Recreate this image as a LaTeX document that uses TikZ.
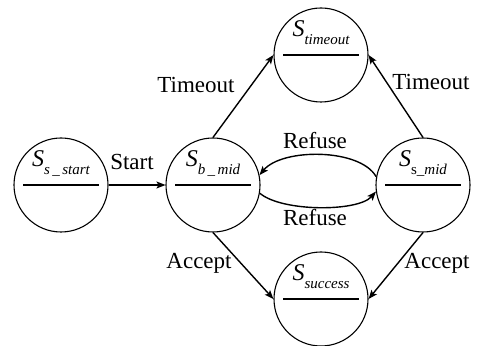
\documentclass[tikz,border=0pt]{standalone}
\usepackage{fontspec}
\setmainfont{Liberation Serif}
\usetikzlibrary{arrows.meta}
\tikzset{
  state/.style={draw, circle, line width=1.1pt, minimum size=94pt, inner sep=0pt},
  sname/.style={anchor=base, inner sep=0pt, font=\fontsize{24}{26}\selectfont\itshape},
  lbl/.style={anchor=base, inner sep=0pt, font=\fontsize{23}{26}\selectfont},
  arr/.style={line width=1.4pt, -{Stealth[length=9pt,width=7pt,inset=2pt]}},
}
\newcommand{\subtx}[1]{\raisebox{-8pt}{\fontsize{15}{16}\selectfont\itshape #1}}
\begin{document}
\begin{tikzpicture}[x=1pt,y=1pt]
\useasboundingbox (0,0) rectangle (484,345);
% states
\node[state] (start) at (61,160) {};
\node[state] (bmid) at (213,160) {};
\node[state] (smid) at (423,160) {};
\node[state] (tout) at (321,290) {};
\node[state] (succ) at (321,46) {};
% names and bars
\foreach \n in {start,bmid,smid,tout,succ}{
  \draw[line width=1.1pt] ([xshift=-38pt]\n.center) -- ([xshift=38pt]\n.center);
}
\node[sname] (startt) at ([yshift=18pt]start.center) {S\subtx{s\,\_\,start}};
\node[sname] (bmidt) at ([yshift=18pt]bmid.center) {S\subtx{b\,\_\,mid}};
\node[sname] (smidt) at ([yshift=18pt]smid.center) {S\subtx{\upshape s\_\itshape mid}};
\node[sname] (toutt) at ([yshift=18pt]tout.center) {S\subtx{timeout}};
\node[sname] (succt) at ([yshift=18pt]succ.center) {S\subtx{success}};
% connectors
\draw[arr] (start.east) -- (bmid.west);
\draw[arr] (bmid.north) -- (tout.west);
\draw[arr] (smid.north) -- (tout.east);
\draw[arr] (bmid.south) -- (succ.west);
\draw[arr] (smid.south) -- (succ.east);
\draw[arr] (smid.170) .. controls (360,197) and (282,197) .. (bmid.12);
\draw[arr] (bmid.-10) .. controls (282,133) and (358,133) .. (smid.-172);
% labels
\node[lbl] (lstart) at (132,175) {Start};
\node[lbl] (ltl) at (196,252) {Timeout};
\node[lbl] (ltr) at (431,255) {Timeout};
\node[lbl] (lr1) at (315,196) {Refuse};
\node[lbl] (lr2) at (315,119) {Refuse};
\node[lbl] (lal) at (199,76) {Accept};
\node[lbl] (lar) at (437,76) {Accept};
\end{tikzpicture}
\end{document}
